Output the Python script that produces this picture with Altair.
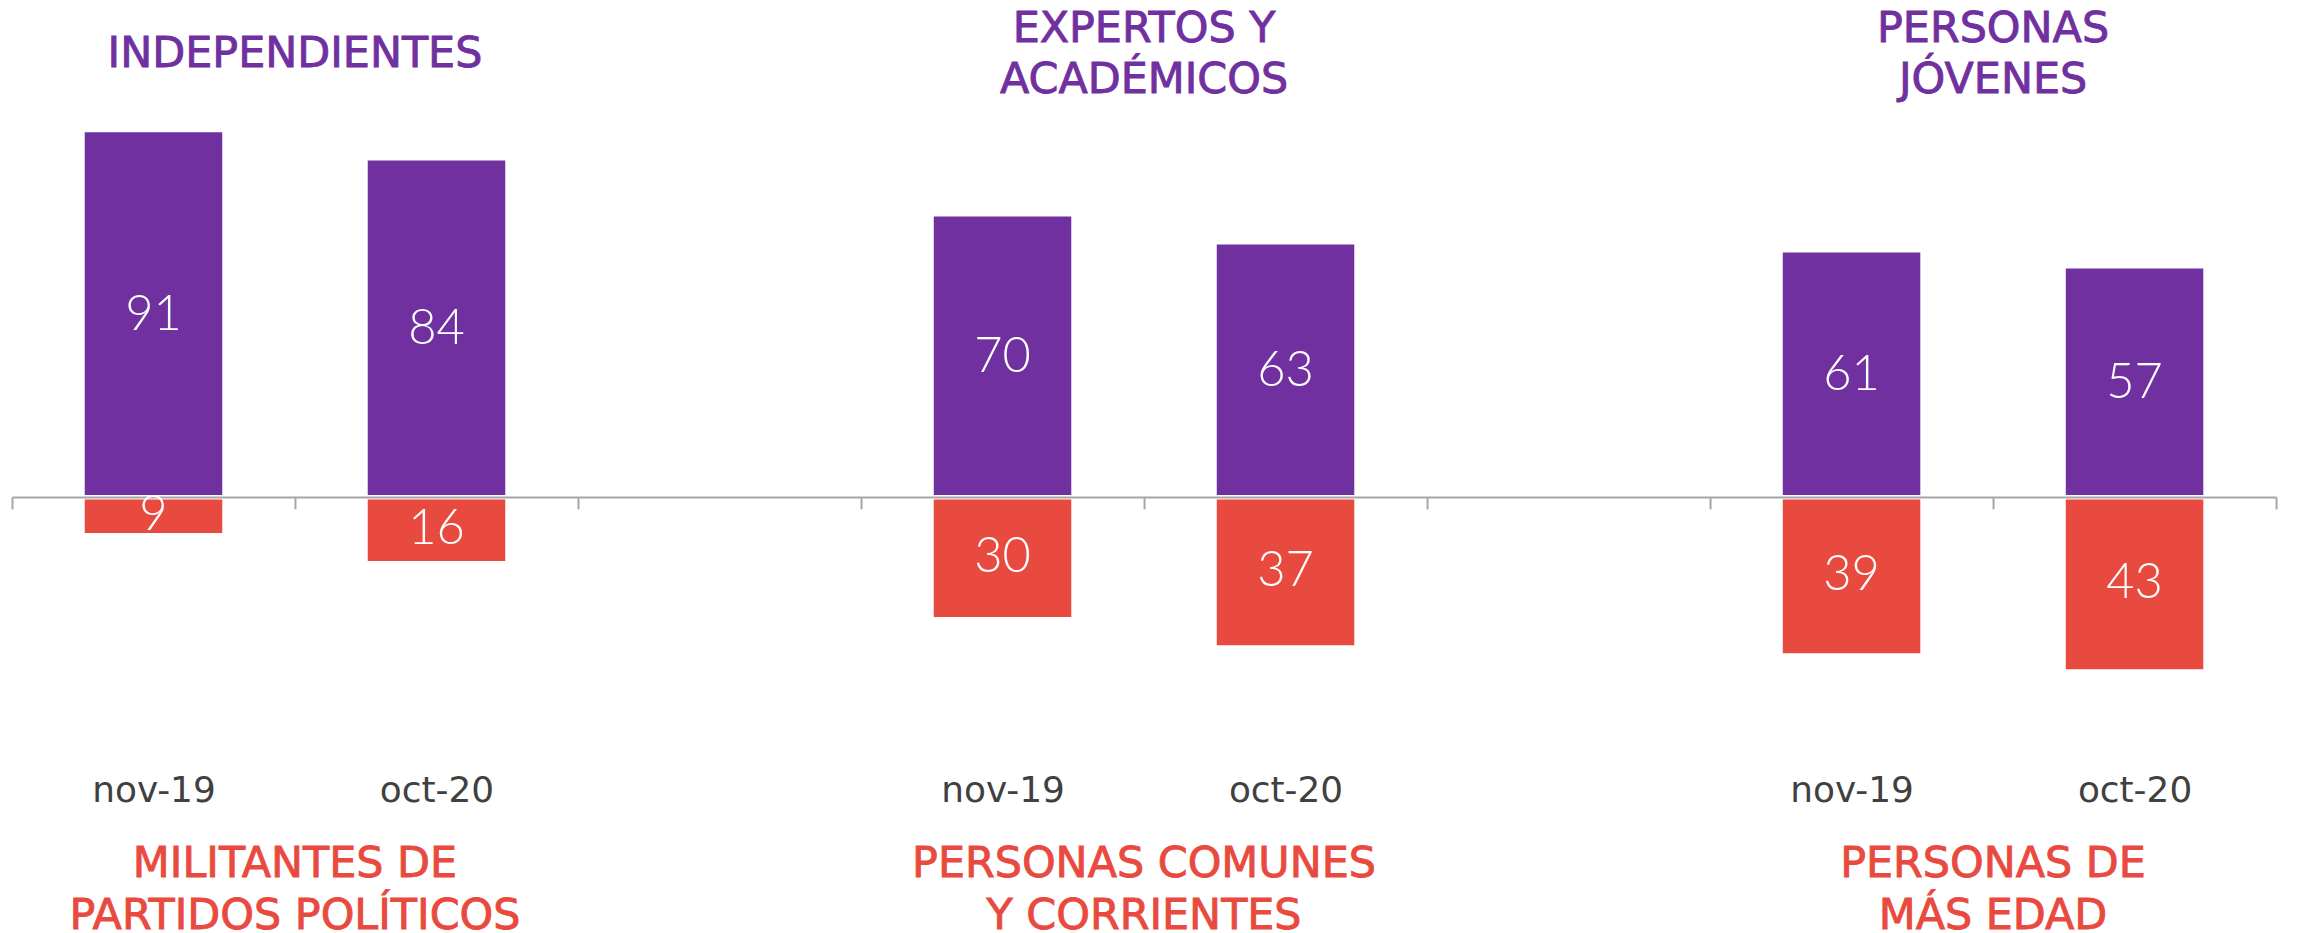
import altair as alt
import pandas as pd

# ---- data ----
group_keys = ["g0", "g1", "g2"]
top_titles = ["INDEPENDIENTES", "EXPERTOS Y\nACADÉMICOS", "PERSONAS\nJÓVENES"]
bottom_titles = ["MILITANTES DE\nPARTIDOS POLÍTICOS", "PERSONAS COMUNES\nY CORRIENTES", "PERSONAS DE\nMÁS EDAD"]
periods = ["nov-19", "oct-20"]
purple_values = [91, 84, 70, 63, 61, 57]
red_values = [9, 16, 30, 37, 39, 43]

PURPLE = "#7030A0"
RED = "#E94A40"
GRAY = "#A6A6A6"
TEXT = "#404040"

slot_order = ["g0|nov-19", "g0|oct-20", "gap1",
              "g1|nov-19", "g1|oct-20", "gap2",
              "g2|nov-19", "g2|oct-20"]

rows = []
i = 0
for g in group_keys:
    for p in periods:
        rows.append({"slot": f"{g}|{p}", "purple": purple_values[i], "red": -red_values[i],
                     "purple_mid": purple_values[i] / 2, "red_mid": -red_values[i] / 2,
                     "purple_lbl": purple_values[i], "red_lbl": red_values[i]})
        i += 1
df = pd.DataFrame(rows)

titles = pd.DataFrame({
    "slot": [f"{g}|oct-20" for g in group_keys],
    "top": top_titles,
    "bottom": bottom_titles,
    "top_lines": [t.count("\n") + 1 for t in top_titles],
    "bottom_lines": [t.count("\n") + 1 for t in bottom_titles],
})

xscale = alt.Scale(domain=slot_order, paddingInner=0, paddingOuter=0)
yscale = alt.Scale(domain=[0, 121.64], nice=False, zero=False)

xaxis = alt.Axis(
    title=None, tickBand="extent", tickSize=12, tickWidth=2, tickColor=GRAY,
    domainColor=GRAY, domainWidth=2, labelFont="DejaVu Sans", labelFontSize=36,
    labelColor=TEXT, labelPadding=294, labelBaseline="alphabetic", labelAngle=0,
    labelOverlap=False,
    labelExpr="indexof(datum.label, '|') > 0 ? slice(datum.label, 3) : ''",
)

x_enc = alt.X("slot:N", scale=xscale, axis=xaxis, sort=slot_order)

base = alt.Chart(df)

purple_bars = base.mark_bar(color=PURPLE, size=138, y2Offset=-2).encode(
    x=x_enc,
    y=alt.Y("purple:Q", scale=yscale, axis=None),
    y2=alt.datum(0),
)
red_bars = base.mark_bar(color=RED, size=138, y2Offset=2.5).encode(
    x=x_enc,
    y=alt.Y("red:Q", scale=yscale, axis=None),
    y2=alt.datum(0),
)
purple_lbl = base.mark_text(font="Lato", fontWeight=300, fontSize=49, color="white",
                            baseline="middle", align="center").encode(
    x=x_enc,
    y=alt.Y("purple_mid:Q", scale=yscale, axis=None),
    text="purple_lbl:Q",
)
red_lbl = base.mark_text(font="Lato", fontWeight=300, fontSize=49, color="white",
                         baseline="middle", align="center").encode(
    x=x_enc,
    y=alt.Y("red_mid:Q", scale=yscale, axis=None),
    text="red_lbl:Q",
)

x_title = alt.X("slot:N", scale=xscale, axis=xaxis, sort=slot_order, bandPosition=0)

def title_layer(field, lines_field, n, ypix, color):
    return alt.Chart(titles).transform_filter(
        alt.datum[lines_field] == n
    ).mark_text(font="DejaVu Sans", fontSize=43, color=color, stroke=color,
                strokeWidth=0.9, lineBreak="\n", lineHeight=52, baseline="middle",
                align="center").encode(
        x=x_title, y=alt.value(ypix), text=f"{field}:N")

top_1 = title_layer("top", "top_lines", 1, 45, PURPLE)
top_2 = title_layer("top", "top_lines", 2, 19, PURPLE)
bot_2 = title_layer("bottom", "bottom_lines", 2, 857.4, RED)

chart = alt.layer(purple_bars, red_bars, purple_lbl, red_lbl, top_1, top_2, bot_2).properties(
    width=2272, height=489,
    autosize=alt.AutoSizeParams(type="none"),
    padding={"left": 4, "top": 0, "right": 16, "bottom": 436},
).configure_view(strokeWidth=0)

chart.save("out.html", embed_options={"renderer": "svg", "actions": False})
